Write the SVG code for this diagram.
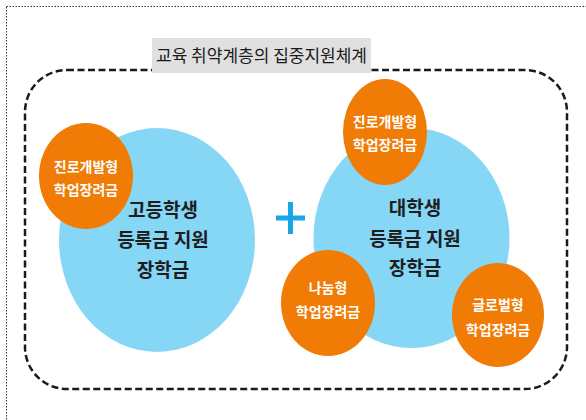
<svg xmlns="http://www.w3.org/2000/svg" width="586" height="420" viewBox="0 0 586 420">
<style>
.blue{fill:#86d6f6}
.orange{fill:#f07b05}
.ot{font-family:"Noto Sans CJK KR","Noto Sans",sans-serif;font-weight:bold;font-size:14px;fill:#fff;text-anchor:middle}
.bt{font-family:"Noto Sans CJK KR","Noto Sans",sans-serif;font-weight:bold;font-size:19px;fill:#1e1e1e;text-anchor:middle}
</style>
<rect x="0" y="0" width="586" height="420" fill="#fff"/>
<rect x="6.5" y="6.5" width="600" height="430" fill="none" stroke="#333" stroke-width="1" stroke-dasharray="1.5,1.5"/>
<rect id="frame" x="25" y="70" width="542" height="319" rx="42" ry="42" fill="none" stroke="#1a1a1a" stroke-width="2.5" stroke-dasharray="7,3.5"/>
<g id="title">
<rect x="152" y="38" width="219" height="35" fill="#e0e0e0"/>
<text x="261.5" y="62" font-family="'Noto Sans CJK KR','Noto Sans',sans-serif" font-size="17" fill="#1a1a1a" text-anchor="middle">교육 취약계층의 집중지원체계</text>
</g>
<g id="hs">
<ellipse class="blue" cx="157" cy="240" rx="98" ry="112"/>
<text class="bt" x="163" y="217">고등학생</text>
<text class="bt" x="163" y="247">등록금 지원</text>
<text class="bt" x="163" y="277">장학금</text>
</g>
<g id="hs-career">
<ellipse class="orange" cx="86" cy="176" rx="47" ry="53"/>
<text class="ot" x="86" y="172">진로개발형</text>
<text class="ot" x="86" y="195">학업장려금</text>
</g>
<g id="plus">
<path d="M276 218H305M290.5 202V234" stroke="#1aa6e6" stroke-width="5" fill="none"/>
</g>
<g id="univ">
<ellipse class="blue" cx="411.5" cy="238" rx="98" ry="110"/>
<text class="bt" x="415" y="215">대학생</text>
<text class="bt" x="415" y="246">등록금 지원</text>
<text class="bt" x="415" y="275">장학금</text>
</g>
<g id="univ-career">
<ellipse class="orange" cx="385" cy="132" rx="42" ry="53"/>
<text class="ot" x="385" y="127">진로개발형</text>
<text class="ot" x="385" y="150">학업장려금</text>
</g>
<g id="sharing">
<ellipse class="orange" cx="328" cy="303" rx="47" ry="53"/>
<text class="ot" x="328" y="293">나눔형</text>
<text class="ot" x="328" y="317">학업장려금</text>
</g>
<g id="global">
<ellipse class="orange" cx="498" cy="315" rx="46" ry="52"/>
<text class="ot" x="498" y="310">글로벌형</text>
<text class="ot" x="498" y="335">학업장려금</text>
</g>
</svg>
